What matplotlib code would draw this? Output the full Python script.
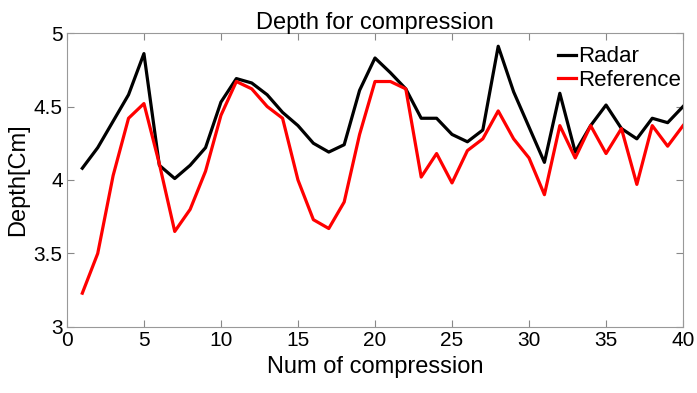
import matplotlib
matplotlib.use("Agg")
import matplotlib.pyplot as plt

# values
compression = list(range(1, 41))
radar = [4.08, 4.22, 4.40, 4.58, 4.86, 4.10, 4.01, 4.10, 4.22, 4.53,
         4.69, 4.66, 4.58, 4.46, 4.37, 4.25, 4.19, 4.24, 4.61, 4.83,
         4.73, 4.62, 4.42, 4.42, 4.31, 4.26, 4.34, 4.91, 4.60, 4.36,
         4.12, 4.59, 4.19, 4.37, 4.51, 4.35, 4.28, 4.42, 4.39, 4.50]
reference = [3.23, 3.50, 4.03, 4.42, 4.52, 4.11, 3.65, 3.80, 4.06, 4.44,
             4.67, 4.62, 4.50, 4.42, 4.00, 3.73, 3.67, 3.85, 4.31, 4.67,
             4.67, 4.62, 4.02, 4.18, 3.98, 4.20, 4.28, 4.47, 4.28, 4.15,
             3.90, 4.37, 4.15, 4.37, 4.18, 4.35, 3.97, 4.37, 4.23, 4.37]
x_ticks = [0, 5, 10, 15, 20, 25, 30, 35, 40]
y_ticks = [3, 3.5, 4, 4.5, 5]

plt.rcParams["font.family"] = ["Liberation Sans", "DejaVu Sans"]

fig = plt.figure(figsize=(6.97, 3.93), dpi=100)
ax = fig.add_axes([0.096, 0.168, 0.884, 0.748])

ax.plot(compression, radar, color="black", lw=2.3, label="Radar")
ax.plot(compression, reference, color="#ff0000", lw=2.3, label="Reference")

ax.set_xlim(0, 40)
ax.set_ylim(3, 5)
ax.set_xticks(x_ticks)
ax.set_yticks(y_ticks)
ax.set_yticklabels(["3", "3.5", "4", "4.5", "5"])
ax.tick_params(direction="in", top=True, right=True, length=5,
               color="#888888", labelsize=15, pad=3)
for s in ax.spines.values():
    s.set_color("#999999")
    s.set_linewidth(0.8)

ax.set_title("Depth for compression", fontsize=17, pad=3)
ax.set_xlabel("Num of compression", fontsize=17, labelpad=4)
ax.set_ylabel("Depth[Cm]", fontsize=17, labelpad=3)

ax.legend(loc="upper right", frameon=False, fontsize=16, handlelength=0.8,
          handletextpad=0.1, labelspacing=0.1, borderaxespad=0.2,
          bbox_to_anchor=(1.018, 1.0))

fig.savefig("out.png", dpi=100)
